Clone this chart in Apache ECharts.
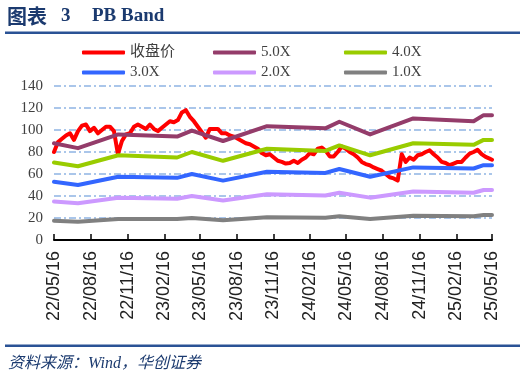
<!DOCTYPE html>
<html><head><meta charset="utf-8">
<script src="https://cdn.jsdelivr.net/npm/echarts@6/dist/echarts.min.js"></script>
<style>html,body{margin:0;padding:0;background:#fff}#c{width:524px;height:381px}</style>
</head><body><div id="c"></div>
<script>
// ---- data ----
const xStart = '2022-05-16';
const xEnd = '2025-05-16';
const xTickDates = ['2022-05-16','2022-08-16','2022-11-16','2023-02-16','2023-05-16','2023-08-16','2023-11-16','2024-02-16','2024-05-16','2024-08-16','2024-11-16','2025-02-16','2025-05-16'];
const yTicks = [0, 20, 40, 60, 80, 100, 120, 140];
const seriesNames = ['收盘价', '5.0X', '4.0X', '3.0X', '2.0X', '1.0X'];

// closing price, one reading every 10 calendar days from xStart
const closeStepDays = 10;
const closeValues = [
  80, 89, 92, 95, 97, 91, 99, 104, 105, 99,
  102, 97, 100, 103, 103, 99, 78, 90, 96, 97,
  103, 105, 103, 101, 105, 101, 99, 102, 105, 108,
  107, 109, 116, 118, 112, 108, 103, 98, 93, 101,
  101, 101, 97, 97, 95, 94, 92, 90, 88, 87,
  85, 83, 79, 77, 78, 75, 72, 71, 69.5, 70,
  72, 70, 73, 75, 79, 78, 83, 84, 81, 76,
  76, 80, 85, 83, 80, 78, 75, 71, 69, 68,
  66, 64.5, 63, 60, 57, 56, 54, 78, 71, 75,
  73, 77, 78, 80, 81.5, 78, 75, 71, 70, 68,
  69.5, 71, 71, 75, 78.5, 80, 82, 78, 75.5, 74,
  73
];

// PB band vertices
const bandDates = ['2022-05-16','2022-07-15','2022-10-24','2023-03-20','2023-04-26','2023-07-13','2023-10-31','2024-03-25','2024-04-29','2024-07-15','2024-10-31','2025-03-31','2025-04-25','2025-05-16'];
const pb5 = [88, 83.5, 96, 94, 99.5, 90, 103.5, 101.5, 107.5, 96, 110.5, 108, 113.5, 113.5];
const pb4 = [70.5, 67, 77, 75, 80, 72, 83, 81, 86, 77, 88, 86.5, 91, 91];
const pb3 = [53, 50, 57.5, 56.5, 60, 54, 62, 61, 64.5, 57.5, 66, 65, 68, 68];
const pb2 = [35, 33.5, 38.5, 37.5, 40, 36, 41.5, 40.5, 43, 38.5, 44, 43, 45.5, 45.5];
const pb1 = [17.5, 16.7, 19, 19, 20, 18, 20.7, 20.3, 21.5, 19, 22, 21.6, 22.7, 22.7];

// ---- build ----
const DAY = 86400000;
const startMs = Date.parse(xStart + 'T00:00:00Z');
const endMs = Date.parse(xEnd + 'T00:00:00Z');
const categories = [];
for (let t = startMs; t <= endMs; t += DAY) categories.push(new Date(t).toISOString().slice(0, 10));
const tickSet = new Set(xTickDates);
const closeData = closeValues.map((v, i) => [categories[Math.min(i * closeStepDays, categories.length - 1)], v]);
const band = arr => arr.map((v, i) => [bandDates[i], v]);

const colors = ['#ff0000', '#943c6a', '#99cc00', '#3366ff', '#cc99ff', '#808080'];
const seriesData = [closeData, band(pb5), band(pb4), band(pb3), band(pb2), band(pb1)];

const legendPos = [[77, 40], [208, 40], [339, 40], [77, 60], [208, 60], [339, 60]];

const chart = echarts.init(document.getElementById('c'), null, {renderer: 'canvas'});
chart.setOption({
  animation: false,
  backgroundColor: '#fff',
  color: colors,
  grid: {left: 54, right: 32, top: 86, bottom: 141},
  legend: seriesNames.map((n, i) => ({
    data: [n], left: legendPos[i][0], top: legendPos[i][1],
    icon: 'roundRect', itemWidth: 43, itemHeight: 4, itemGap: 5,
    textStyle: {fontFamily: '"Liberation Serif", "Noto Sans CJK SC"', fontSize: 15, color: '#404040'}
  })),
  xAxis: {
    type: 'category', data: categories, boundaryGap: false,
    axisLine: {lineStyle: {color: '#000', width: 2}},
    axisTick: {show: true, inside: true, length: 6, interval: (i, v) => tickSet.has(v), lineStyle: {color: '#000', width: 1.5}},
    axisLabel: {
      interval: (i, v) => tickSet.has(v), rotate: 90, margin: 11,
      fontFamily: '"Liberation Sans", Arial', fontSize: 18, color: '#222',
      formatter: v => v.slice(2).replace(/-/g, '/')
    },
    splitLine: {show: false}
  },
  yAxis: {
    type: 'value', min: yTicks[0], max: yTicks[yTicks.length - 1], interval: 20,
    axisLine: {show: false}, axisTick: {show: false},
    axisLabel: {fontFamily: '"Liberation Serif", serif', fontSize: 15, color: '#404040', margin: 11},
    splitLine: {lineStyle: {color: '#8fb4e3', width: 1.5, type: [7, 3, 2, 3]}}
  },
  series: seriesNames.map((n, i) => ({
    name: n, type: 'line', data: seriesData[i], symbol: 'none', showSymbol: false,
    connectNulls: true,
    lineStyle: {width: i === 0 ? 4 : 4, color: colors[i], cap: 'round', join: 'round'},
    itemStyle: {color: colors[i]}
  })),
  graphic: [
    {type: 'text', left: 7, top: 6, style: {text: '图表', font: 'bold 20px "Noto Sans CJK SC"', fill: '#1b3a6f'}},
    {type: 'text', left: 61, top: 7, style: {text: '3', font: 'bold 19px "Liberation Serif"', fill: '#1b3a6f'}},
    {type: 'text', left: 92, top: 7, style: {text: 'PB Band', font: 'bold 19px "Liberation Serif"', fill: '#1b3a6f'}},
    {type: 'rect', shape: {x: 5, y: 31.5, width: 515, height: 2.5}, style: {fill: '#2a5295'}},
    {type: 'rect', shape: {x: 5, y: 344.5, width: 515, height: 2.5}, style: {fill: '#2a5295'}},
    {type: 'text', left: 8, top: 356, style: {text: '资料来源：Wind，华创证券', font: 'italic 16px "Liberation Serif", "Noto Sans CJK SC"', fill: '#1b3a6f'}}
  ]
});
</script>
</body></html>
